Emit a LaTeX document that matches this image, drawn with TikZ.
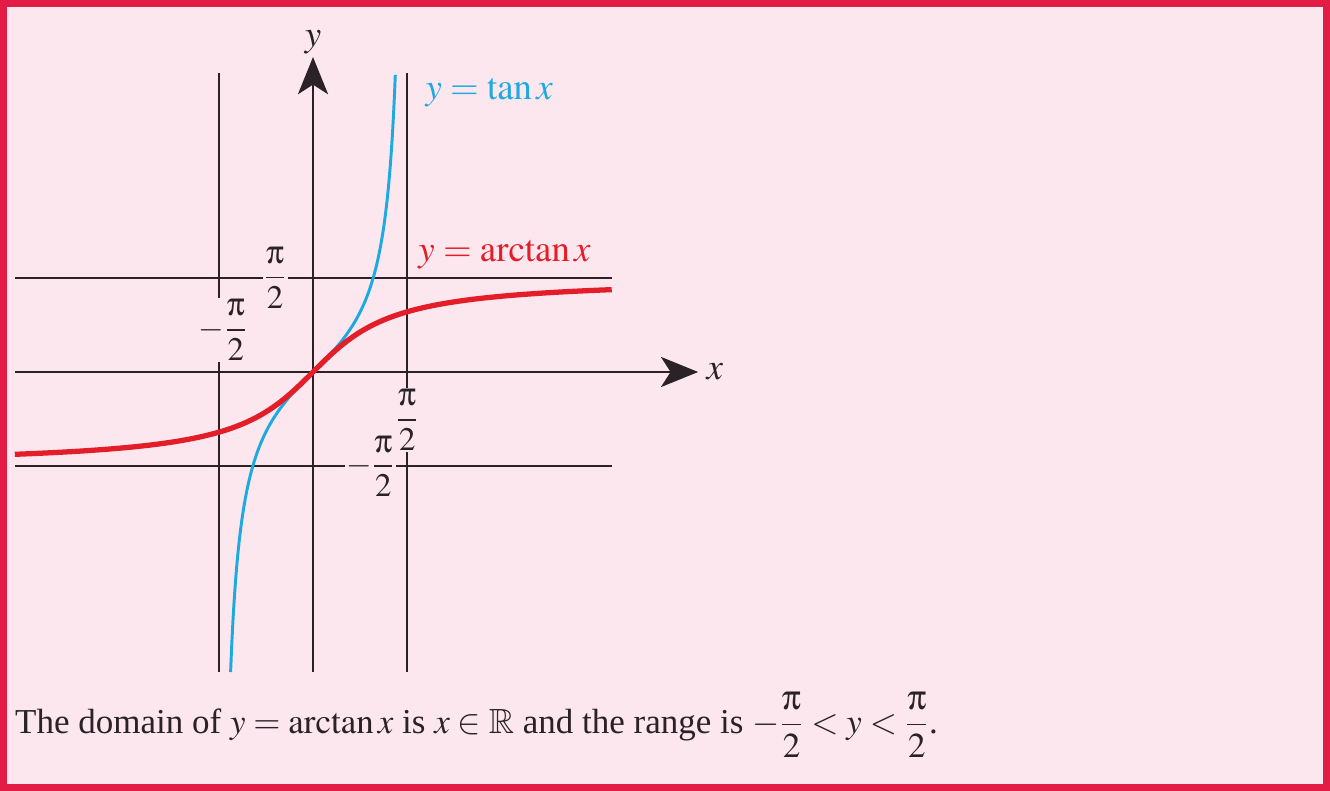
\documentclass[tikz,border=0pt]{standalone}
\usepackage{mathptmx}
\usepackage{amsmath,amssymb}
\usepackage[Symbol]{upgreek}
\usepackage{fontspec}
\setmainfont{Liberation Serif}
\usepackage{tikz}
\usetikzlibrary{positioning,arrows.meta}

\definecolor{bgpink}{RGB}{252,231,239}
\definecolor{framered}{RGB}{226,28,68}
\definecolor{tanblue}{RGB}{28,170,224}
\definecolor{atanred}{RGB}{228,30,40}
\definecolor{ink}{RGB}{42,34,38}

\begin{document}
\begin{tikzpicture}[
        font=\fontsize{17.5}{21}\selectfont,
        axis/.style={draw=ink, line width=1.4pt, -{Stealth[length=6.2mm, width=5mm, inset=1.6mm]}},
        guide/.style={draw=ink, line width=0.75pt},
        tick/.style={text=ink, fill=bgpink, inner sep=0.5pt, font=\fontsize{15.6}{18}\selectfont},
        lbl/.style={text=ink, inner sep=1pt},
    ]
        \useasboundingbox (-5.217,-6.983) rectangle (16.95,6.2);
        \fill[bgpink] (-5.217,-6.983) rectangle (16.95,6.2);
        \draw[framered, line width=4.2pt] (-5.18,-6.946) rectangle (16.913,6.163);

        \coordinate (gl1) at ({-pi/2},-5);
        \coordinate (gl2) at ({-pi/2},4.98);
        \coordinate (gr1) at ({pi/2},-5);
        \coordinate (gr2) at ({pi/2},4.98);
        \coordinate (gt1) at (-4.97,{pi/2});
        \coordinate (gt2) at (4.98,{pi/2});
        \coordinate (gb1) at (-4.97,{-pi/2});
        \coordinate (gb2) at (4.98,{-pi/2});
        \draw[guide] (gl1) -- (gl2);
        \draw[guide] (gr1) -- (gr2);
        \draw[guide] (gt1) -- (gt2);
        \draw[guide] (gb1) -- (gb2);

        \node[tick] (piy)  at (-0.63,{pi/2})   {$\dfrac{\uppi}{2}$};
        \node[tick] (mpix) at (-1.5,0.7)        {$-\dfrac{\uppi}{2}$};
        \node[tick] (mpiy) at (0.96,{-pi/2})    {$-\dfrac{\uppi}{2}$};
        \node[tick] (pix)  at ({pi/2},-0.8)     {$\dfrac{\uppi}{2}$};

        \coordinate (xfrom) at (-4.97,0);
        \coordinate (xto)   at (6.42,0);
        \coordinate (yfrom) at (0,-5);
        \coordinate (yto)   at (0,5.25);
        \draw[axis] (xfrom) -- (xto);
        \draw[axis] (yfrom) -- (yto);
        \node[lbl, right=1mm of xto] (xlab) {$x$};
        \node[lbl, above=0mm of yto] (ylab) {$y$};

        \draw[tanblue, line width=1.4pt] plot[domain=-1.3734:1.3734, samples=200, smooth] (\x,{tan(\x r)});
        \draw[atanred, line width=2.5pt] plot[domain=-4.97:4.98, samples=120, smooth] (\x,{rad(atan(\x))});

        \node[text=tanblue, anchor=west, inner sep=0pt] (tanlab) at (1.87,4.65) {$y=\tan x$};
        \node[text=atanred, anchor=west, inner sep=0pt] (atanlab) at (1.75,1.95) {$y=\arctan x$};

        \node[text=ink, anchor=base west, inner sep=0pt, font=\fontsize{16.6}{20}\selectfont] (caption) at (-4.97,-6.02)
            {The domain of $y=\arctan x$ is $x\in\mathbb{R}$ and the range is $-\dfrac{\uppi}{2}<y<\dfrac{\uppi}{2}$.};
    \end{tikzpicture}
\end{document}
